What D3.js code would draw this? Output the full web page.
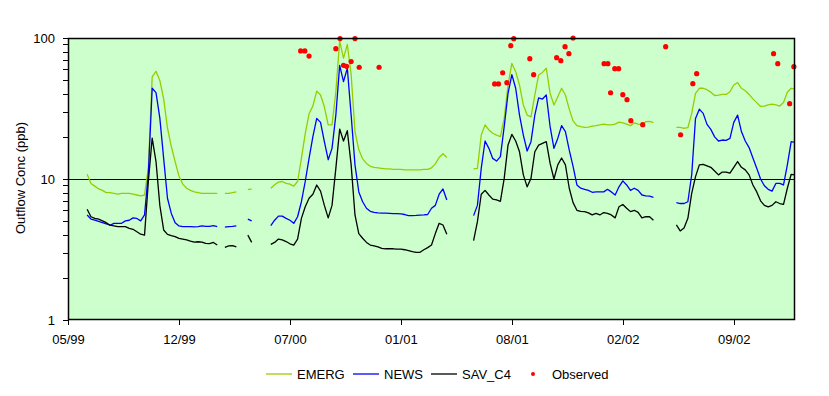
<!DOCTYPE html>
<html>
<head>
<meta charset="utf-8">
<script src="https://cdn.jsdelivr.net/npm/d3@7"></script>
<style>
  body { margin: 0; background: #fff; }
  svg { display: block; font-family: "Liberation Sans", Arial, sans-serif; }
  .axis text { font-size: 13px; fill: #000; }
  .axis line { stroke: #000; shape-rendering: crispEdges; }
</style>
</head>
<body>
<div id="chart"></div>
<script>
// weekly model output, index = week number since start of axis (05/99)
const emerg = [
  null,null,null,null,null,10.8,9.3,8.9,8.5,8.3,
  8.0,8.0,7.9,7.8,7.9,7.9,7.9,7.8,7.7,7.6,
  7.7,12,53,58,50,37,23,17,13.3,10.5,
  9.2,8.6,8.3,8.1,8.0,7.9,7.9,7.9,7.9,7.9,
  null,7.9,7.9,8.0,8.1,null,null,8.4,8.5,null,
  null,null,null,8.6,9.1,9.5,9.6,9.3,9.2,8.9,
  9.6,14,21,29,33,42,39.4,32.5,24.2,24.2,
  41.6,95,72,90,55,21.7,16.1,13.9,12.9,12.3,
  12.1,12.0,11.9,11.8,11.8,11.7,11.7,11.7,11.6,11.6,
  11.6,11.6,11.6,11.7,11.7,12.0,12.8,14.2,15.1,14.2,
  null,null,null,null,null,null,11.8,11.9,20.5,24.2,
  22.3,21.1,20.5,20,26.9,46.4,66,57.7,46.4,33.5,
  28.4,27.6,39.4,54.7,57,61,40.5,33.5,38.3,44,
  39.4,31.3,25.8,23.9,23.5,23.2,23.3,23.7,23.9,24.2,
  24.5,24.2,24.2,24.5,25.3,25,24.5,23.9,25,24.5,
  24.2,25.5,25.6,25.1,null,null,null,null,null,23.2,
  23.2,22.9,23.1,29.2,40.5,44,44,43,41.3,39.1,
  39.4,39.8,39.8,41.6,46.4,48.3,44,42.3,39.8,37,
  34.8,32.7,32.9,33.5,34,33.5,32.9,34.9,41.2,44,
  43.6
];

const news = [
  null,null,null,null,null,5.56,5.2,5.1,5.0,4.9,
  4.8,4.7,4.85,4.85,4.85,5.05,5.1,5.3,5.25,5.05,
  5.56,11,44,41,27,14,7.3,5.7,4.9,4.65,
  4.6,4.6,4.6,4.58,4.6,4.65,4.62,4.62,4.67,4.6,
  null,4.55,4.6,4.62,4.65,null,null,5.2,5.05,null,
  null,null,null,4.67,5.1,5.45,5.45,5.26,5.1,4.85,
  5.4,6.9,9.6,14,20,26.9,25.2,18.4,13.7,16.5,
  28.4,64,49,61,28.4,12.6,8.1,6.9,6.2,5.9,
  5.8,5.75,5.72,5.72,5.7,5.68,5.68,5.65,5.6,5.5,
  5.5,5.52,5.55,5.56,5.6,6.2,6.5,7.8,8.5,7.1,
  null,null,null,null,null,null,5.5,6.5,11.9,18.6,
  16.5,14,13.4,14.4,23.5,40.5,55,44,28.4,20.5,
  15.8,18.4,28.4,37.6,36.9,39.4,23.5,16.5,19.4,23.9,
  21.7,16,12.3,9.07,8.6,8.45,8.3,8.05,8.1,8.1,
  8.1,8.45,8.1,7.7,8.8,9.7,9.07,8.3,8.6,8.3,
  7.7,7.6,7.55,7.4,null,null,null,null,null,6.8,
  6.7,6.7,6.9,10.7,26.9,31.3,29.2,24.4,22.5,19.9,
  18.6,18.9,18.8,19.4,25.2,28.4,21.7,18.6,16.7,14.1,
  11.9,10,8.95,8.45,8.2,9.3,9.3,9.07,12.6,18.4,
  18.2
];

const savC4 = [
  null,null,null,null,null,6.1,5.4,5.26,5.2,5.05,
  4.9,4.7,4.65,4.6,4.6,4.6,4.47,4.4,4.23,4.06,
  4.0,9.6,19.5,13.3,6.5,4.35,4.05,3.97,3.9,3.79,
  3.75,3.7,3.63,3.57,3.59,3.57,3.5,3.48,3.55,3.4,
  null,3.28,3.35,3.37,3.3,null,null,4.0,3.55,null,
  null,null,null,3.44,3.55,3.75,3.7,3.6,3.47,3.4,
  3.75,5.26,6.35,7.3,7.8,9.07,8.2,6.5,5.3,6.5,
  11.9,22.6,18.6,22,12.6,5.56,4.1,3.8,3.55,3.4,
  3.35,3.3,3.22,3.2,3.2,3.2,3.18,3.18,3.15,3.1,
  3.05,3.02,3.02,3.15,3.26,3.4,4.1,4.85,4.72,4.05,
  null,null,null,null,null,null,3.65,4.98,7.8,8.3,
  7.7,7.2,7.1,6.95,10.1,17.4,20.7,18.6,15.6,10.7,
  8.8,10.1,15.6,17.4,17.9,18.4,12.9,10,12.6,14.1,
  12.6,8.6,6.8,6.0,5.9,5.87,5.75,5.56,5.7,5.56,
  5.78,5.7,5.56,5.3,6.35,6.6,6.2,5.87,6.0,5.8,
  5.3,5.4,5.4,5.1,null,null,null,null,null,4.72,
  4.28,4.5,5.26,7.9,10.4,12.6,12.7,12.4,12.1,11.4,
  10.7,11.2,11.2,11,12.1,13.3,12.1,11.6,10.7,9.07,
  8.1,7.0,6.5,6.35,6.5,6.9,6.7,6.6,8.6,10.8,
  10.7
];

// observed samples (week, ppb)
const obsWeek = [60.8,61.9,63.0,70.0,71.1,72.0,72.8,74.0,75.0,76.1,81.3,
  111.5,112.5,113.6,114.7,115.7,116.5,120.7,121.7,127.7,128.8,129.9,130.9,132.0,
  140.1,141.1,141.8,142.9,143.9,145.0,146.1,147.1,150.2,156.2,
  160.1,163.3,164.3,184.4,185.5,188.6,189.7];
const obsValue = [81,81,74.5,84,99,64,63,68,99,62,62,
  47.2,47.2,56.7,48.2,88.2,98.9,71.3,54.9,72.5,69,86.8,77.4,100,
  65.7,65.7,40.9,60.6,60.6,39.6,36.5,25.9,24.3,86.8,
  20.6,47.4,55.8,77.4,65.7,34.2,62.6];

const tickWeeks = [0, 29, 58, 87, 116, 145, 174];
const tickLabels = ['05/99', '12/99', '07/00', '01/01', '08/01', '02/02', '09/02'];
const seriesNames = ['EMERG', 'NEWS', 'SAV_C4'];
const seriesColors = ['#99CC00', '#0000FF', '#000000'];

const width = 829, height = 396;
const plot = {left: 68, right: 795, top: 38, bottom: 320};

const svg = d3.select('#chart').append('svg')
    .attr('width', width)
    .attr('height', height);

svg.append('rect')
    .attr('width', width).attr('height', height)
    .attr('fill', '#fff');

const x = d3.scaleLinear().domain([0, 190]).range([plot.left, plot.right]);
const y = d3.scaleLog().domain([1, 100]).range([plot.bottom, plot.top]);

// plot area background
svg.append('rect')
    .attr('x', plot.left).attr('y', plot.top)
    .attr('width', plot.right - plot.left)
    .attr('height', plot.bottom - plot.top)
    .attr('fill', '#CCFFCC');

// gridline at 10
svg.append('line')
    .attr('x1', plot.left).attr('x2', plot.right)
    .attr('y1', y(10) + 0.5).attr('y2', y(10) + 0.5)
    .attr('stroke', '#000').attr('stroke-width', 1)
    .style('shape-rendering', 'crispEdges');

// model lines
const line = d3.line()
    .defined(d => d != null)
    .x((d, i) => x(i))
    .y(d => y(d));

[emerg, news, savC4].forEach((s, k) => {
    svg.append('path')
        .datum(s)
        .attr('fill', 'none')
        .attr('stroke', seriesColors[k])
        .attr('stroke-width', 1.3)
        .attr('stroke-linejoin', 'round')
        .attr('d', line);
});

// observed points
svg.append('g').selectAll('circle')
    .data(obsWeek)
    .join('circle')
    .attr('cx', d => x(d))
    .attr('cy', (d, i) => y(obsValue[i]))
    .attr('r', 2.6)
    .attr('fill', '#FF0000');

// border
svg.append('rect')
    .attr('x', plot.left + 0.5).attr('y', plot.top + 0.5)
    .attr('width', plot.right - plot.left - 1)
    .attr('height', plot.bottom - plot.top - 1)
    .attr('fill', 'none')
    .attr('stroke', '#000').attr('stroke-width', 1.5);

// axes
const yTicks = [];
[1, 10].forEach(dec => { for (let m = 1; m < 10; m++) yTicks.push(dec * m); });
yTicks.push(100);

svg.append('g')
    .attr('class', 'axis')
    .attr('transform', `translate(${plot.left},0)`)
    .call(d3.axisLeft(y)
        .tickValues(yTicks)
        .tickSize(5)
        .tickPadding(8)
        .tickFormat(d => (d === 1 || d === 10 || d === 100) ? d : ''))
    .call(g => g.select('.domain').remove())
    .call(g => g.selectAll('text').style('font-family', '"Liberation Sans", Arial, sans-serif'));

svg.append('g')
    .attr('class', 'axis')
    .attr('transform', `translate(0,${plot.bottom})`)
    .call(d3.axisBottom(x)
        .tickValues(tickWeeks)
        .tickSize(5)
        .tickPadding(10)
        .tickFormat((d, i) => tickLabels[i]))
    .call(g => g.select('.domain').remove())
    .call(g => g.selectAll('text').style('font-family', '"Liberation Sans", Arial, sans-serif'));

// y-axis title
svg.append('text')
    .attr('transform', 'rotate(-90)')
    .attr('x', -178).attr('y', 20)
    .attr('dy', '.35em')
    .attr('text-anchor', 'middle')
    .style('font-size', '13px')
    .text('Outflow Conc (ppb)');

// legend
const legendY = 374;
const legendX = [266, 353, 431];
const legend = svg.append('g');
seriesNames.forEach((name, k) => {
    legend.append('line')
        .attr('x1', legendX[k]).attr('x2', legendX[k] + 26)
        .attr('y1', legendY).attr('y2', legendY)
        .attr('stroke', seriesColors[k]).attr('stroke-width', 1.3);
    legend.append('text')
        .attr('x', legendX[k] + 31).attr('y', legendY)
        .attr('dy', '.35em')
        .style('font-size', '13px')
        .text(name);
});
legend.append('circle')
    .attr('cx', 533).attr('cy', legendY)
    .attr('r', 2).attr('fill', '#FF0000');
legend.append('text')
    .attr('x', 552).attr('y', legendY)
    .attr('dy', '.35em')
    .style('font-size', '13px')
    .text('Observed');
</script>
</body>
</html>
